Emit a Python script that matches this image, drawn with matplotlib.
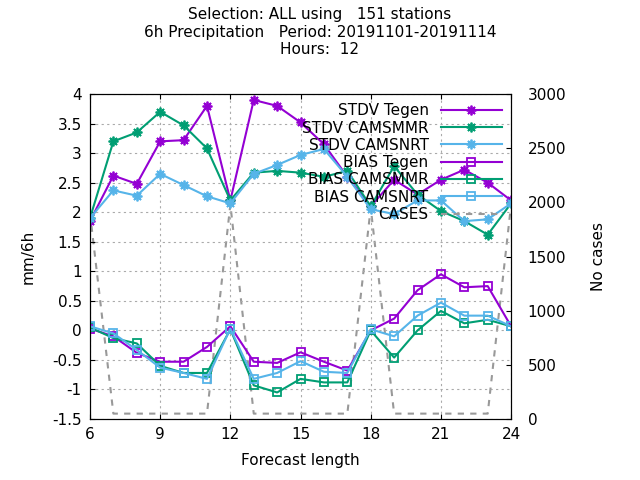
import matplotlib
matplotlib.use("Agg")
import matplotlib.pyplot as plt

hours = list(range(6, 25))
stdv_tegen = [1.85,2.62,2.48,3.2,3.22,3.8,2.2,3.9,3.8,3.52,3.15,2.6,2.1,2.55,2.3,2.55,2.72,2.5,2.2]
stdv_mmr = [1.9,3.2,3.35,3.7,3.47,3.08,2.2,2.67,2.7,2.67,2.6,2.7,2.1,2.78,2.3,2.02,1.85,1.62,2.15]
stdv_nrt = [1.9,2.37,2.28,2.65,2.46,2.27,2.15,2.65,2.8,2.97,3.07,2.6,2.05,1.97,2.2,2.2,1.85,1.88,2.15]
bias_tegen = [0.03,-0.1,-0.38,-0.53,-0.53,-0.28,0.07,-0.53,-0.55,-0.37,-0.53,-0.68,0.0,0.2,0.68,0.95,0.73,0.75,0.07]
bias_mmr = [0.05,-0.13,-0.22,-0.6,-0.72,-0.72,0.02,-0.93,-1.05,-0.82,-0.88,-0.88,0.0,-0.46,0.0,0.33,0.12,0.18,0.07]
bias_nrt = [0.07,-0.05,-0.33,-0.63,-0.72,-0.82,0.03,-0.82,-0.72,-0.52,-0.7,-0.72,0.02,-0.1,0.25,0.47,0.25,0.25,0.07]
cases = [1900,50,50,50,50,50,1980,50,50,50,50,50,1950,50,50,50,50,50,1980]

purple, green, blue = "#9400d3", "#009e73", "#56b4e9"

fig = plt.figure(figsize=(6.4, 4.8), dpi=100)
ax = fig.add_axes([0.1406, 0.127, 0.658, 0.677])
ax2 = ax.twinx()
ax.set_zorder(ax2.get_zorder() + 1)
ax.patch.set_visible(False)

ax2.plot(hours, cases, color="#999999", ls=(0, (3, 3)), lw=1.5, label="CASES")
ax2.set_ylim(0, 3000)
ax2.set_yticks(range(0, 3001, 500))
ax2.set_ylabel("No cases", labelpad=18, fontsize=11)

star = (8, 2, 0)
kw = dict(lw=1.5, ms=7, mew=1.3)
ax.plot(hours, stdv_tegen, color=purple, marker=star, label="STDV Tegen", **kw)
ax.plot(hours, stdv_mmr, color=green, marker=star, label="STDV CAMSMMR", **kw)
ax.plot(hours, stdv_nrt, color=blue, marker=star, label="STDV CAMSNRT", **kw)
kw["ms"] = 6
ax.plot(hours, bias_tegen, color=purple, marker="s", mfc="none", label="BIAS Tegen", **kw)
ax.plot(hours, bias_mmr, color=green, marker="s", mfc="none", label="BIAS CAMSMMR", **kw)
ax.plot(hours, bias_nrt, color=blue, marker="s", mfc="none", label="BIAS CAMSNRT", **kw)

ax.set_xlim(6, 24)
ax.set_xticks(range(6, 25, 3))
ax.set_ylim(-1.5, 4)
ax.set_yticks([-1.5,-1,-0.5,0,0.5,1,1.5,2,2.5,3,3.5,4])
ax.set_yticklabels(["-1.5","-1","-0.5","0","0.5","1","1.5","2","2.5","3","3.5","4"])
ax.grid(True, color="#aaaaaa", ls=(0, (2, 3)), lw=0.8)
ax.set_xlabel("Forecast length", fontsize=11, labelpad=8)
ax.set_ylabel("mm/6h", labelpad=12, fontsize=11)
ax.tick_params(direction="in", labelsize=11, pad=6, top=True)
ax2.tick_params(direction="in", labelsize=11, pad=12)

h1, l1 = ax.get_legend_handles_labels()
h2, l2 = ax2.get_legend_handles_labels()
ax.legend(h1 + h2, l1 + l2, loc="upper right", frameon=False, fontsize=11,
          markerfirst=False, handlelength=4, labelspacing=0.15, borderaxespad=0.2)

fig.suptitle("Selection: ALL using   151 stations\n6h Precipitation   Period: 20191101-20191114\nHours:  12",
             y=0.985, fontsize=11, linespacing=1.2)
fig.savefig("out.png", dpi=100)
